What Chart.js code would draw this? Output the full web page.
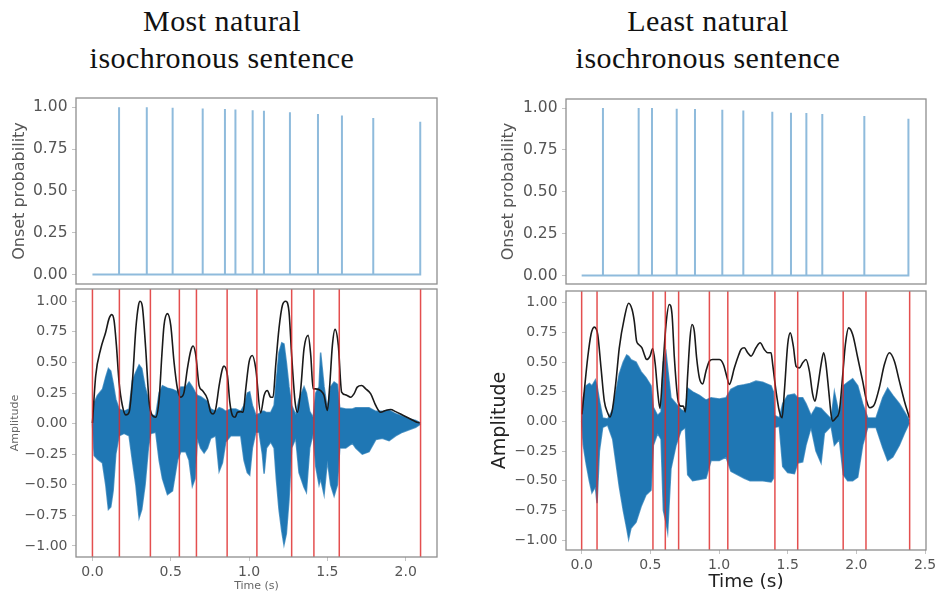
<!DOCTYPE html>
<html><head><meta charset="utf-8">
<script src="https://cdn.jsdelivr.net/npm/chart.js@4.4.1/dist/chart.umd.min.js"></script>
<style>
html,body{margin:0;padding:0;background:#fff;}
body{width:938px;height:596px;position:relative;overflow:hidden;}
canvas{position:absolute;}
.title{position:absolute;font-family:'Liberation Serif','DejaVu Serif',serif;font-size:30px;line-height:30px;letter-spacing:0.45px;color:#111;text-align:center;white-space:nowrap;width:400px;}
</style></head><body>
<div class="title" style="left:22px;top:6px">Most natural</div>
<div class="title" style="left:22px;top:43px">isochronous sentence</div>
<div class="title" style="left:508px;top:6px">Least natural</div>
<div class="title" style="left:508px;top:43px">isochronous sentence</div>
<script>
// ---------- tick labels ----------
const xTicksLeft = [0, 0.5, 1, 1.5, 2];
const xTicksRight = [0, 0.5, 1, 1.5, 2, 2.5];
const yTicksOnset = [0, 0.25, 0.5, 0.75, 1];
const yTicksAmp = [-1, -0.75, -0.5, -0.25, 0, 0.25, 0.5, 0.75, 1];

// ---------- LEFT: most natural ----------
const leftSpikeT = [0.170, 0.347, 0.512, 0.704, 0.846, 0.913, 1.023, 1.095, 1.261, 1.440, 1.593, 1.793, 2.093];
const leftSpikeP = [1.0, 1.0, 0.998, 0.993, 0.99, 0.987, 0.983, 0.98, 0.97, 0.96, 0.952, 0.936, 0.914];
const leftOnsets = [0, 0.172, 0.370, 0.555, 0.664, 0.860, 1.050, 1.272, 1.414, 1.576, 2.095];

const leftEnvT = [0, 0.021, 0.053, 0.085, 0.106, 0.123, 0.138, 0.153, 0.170, 0.191, 0.213, 0.234, 0.255, 0.277, 0.294, 0.304, 0.319, 0.340, 0.362, 0.383, 0.404, 0.426, 0.443, 0.457, 0.479, 0.500, 0.521, 0.543, 0.564, 0.585, 0.606, 0.628, 0.643, 0.660, 0.681, 0.702, 0.734, 0.755, 0.770, 0.787, 0.809, 0.830, 0.840, 0.862, 0.877, 0.894, 0.911, 0.926, 0.947, 0.962, 0.979, 1.000, 1.021, 1.043, 1.074, 1.096, 1.117, 1.138, 1.153, 1.170, 1.191, 1.213, 1.234, 1.255, 1.272, 1.294, 1.309, 1.330, 1.351, 1.377, 1.394, 1.409, 1.426, 1.457, 1.479, 1.500, 1.515, 1.532, 1.549, 1.570, 1.591, 1.617, 1.649, 1.670, 1.691, 1.719, 1.745, 1.777, 1.809, 1.840, 1.872, 1.904, 1.936, 1.979, 2.021, 2.064, 2.089];
const leftEnvA = [0.005, 0.393, 0.612, 0.749, 0.858, 0.891, 0.844, 0.639, 0.339, 0.148, 0.071, 0.093, 0.339, 0.776, 0.967, 1.0, 0.954, 0.612, 0.175, 0.066, 0.052, 0.202, 0.557, 0.803, 0.899, 0.803, 0.503, 0.284, 0.216, 0.257, 0.448, 0.598, 0.634, 0.557, 0.311, 0.270, 0.202, 0.093, 0.079, 0.120, 0.311, 0.448, 0.470, 0.393, 0.175, 0.066, 0.052, 0.093, 0.098, 0.093, 0.284, 0.503, 0.557, 0.448, 0.087, 0.23, 0.27, 0.216, 0.216, 0.475, 0.776, 0.967, 1.0, 0.913, 0.557, 0.175, 0.093, 0.284, 0.612, 0.721, 0.557, 0.284, 0.284, 0.270, 0.230, 0.107, 0.311, 0.639, 0.770, 0.639, 0.257, 0.235, 0.216, 0.243, 0.298, 0.311, 0.284, 0.243, 0.148, 0.093, 0.107, 0.115, 0.098, 0.071, 0.044, 0.016, 0.005];

const leftWaveT = [0, 0.011, 0.032, 0.064, 0.085, 0.102, 0.117, 0.132, 0.149, 0.170, 0.202, 0.234, 0.255, 0.277, 0.298, 0.315, 0.336, 0.357, 0.372, 0.404, 0.426, 0.447, 0.479, 0.511, 0.543, 0.564, 0.596, 0.617, 0.638, 0.655, 0.670, 0.691, 0.713, 0.734, 0.755, 0.787, 0.809, 0.830, 0.851, 0.883, 0.915, 0.947, 0.968, 0.989, 1.004, 1.021, 1.043, 1.064, 1.085, 1.096, 1.111, 1.138, 1.160, 1.174, 1.191, 1.209, 1.223, 1.238, 1.255, 1.272, 1.298, 1.319, 1.351, 1.366, 1.387, 1.409, 1.426, 1.447, 1.457, 1.479, 1.500, 1.521, 1.543, 1.564, 1.579, 1.617, 1.660, 1.681, 1.723, 1.766, 1.809, 1.851, 1.894, 1.936, 1.979, 2.021, 2.064, 2.094];
const leftWaveHi = [0, 0.17, 0.23, 0.28, 0.38, 0.45, 0.43, 0.33, 0.20, 0.12, 0.10, 0.12, 0.35, 0.42, 0.48, 0.45, 0.30, 0.20, 0.07, 0.065, 0.25, 0.31, 0.29, 0.28, 0.26, 0.30, 0.30, 0.34, 0.30, 0.26, 0.23, 0.22, 0.20, 0.18, 0.12, 0.10, 0.13, 0.12, 0.10, 0.12, 0.12, 0.10, 0.15, 0.25, 0.26, 0.15, 0.07, 0.08, 0.10, 0.10, 0.09, 0.09, 0.15, 0.35, 0.58, 0.66, 0.65, 0.50, 0.30, 0.15, 0.07, 0.20, 0.30, 0.25, 0.10, 0.05, 0.25, 0.30, 0.58, 0.30, 0.12, 0.30, 0.34, 0.32, 0.13, 0.12, 0.12, 0.13, 0.13, 0.13, 0.10, 0.10, 0.11, 0.08, 0.06, 0.04, 0.025, 0.005];
const leftWaveLo = [0, -0.26, -0.29, -0.32, -0.50, -0.70, -0.68, -0.55, -0.25, -0.10, -0.08, -0.10, -0.30, -0.50, -0.77, -0.70, -0.50, -0.20, -0.08, -0.07, -0.30, -0.45, -0.58, -0.55, -0.30, -0.23, -0.23, -0.30, -0.51, -0.45, -0.12, -0.20, -0.24, -0.20, -0.12, -0.10, -0.39, -0.32, -0.15, -0.10, -0.10, -0.10, -0.30, -0.40, -0.42, -0.20, -0.07, -0.07, -0.25, -0.41, -0.20, -0.15, -0.20, -0.45, -0.70, -0.88, -0.99, -0.90, -0.62, -0.20, -0.12, -0.40, -0.52, -0.56, -0.20, -0.08, -0.35, -0.50, -0.45, -0.58, -0.30, -0.50, -0.59, -0.50, -0.20, -0.20, -0.16, -0.20, -0.25, -0.23, -0.13, -0.12, -0.14, -0.10, -0.07, -0.05, -0.03, -0.005];

// ---------- RIGHT: least natural ----------
const rightSpikeT = [0.155, 0.415, 0.512, 0.692, 0.825, 1.024, 1.177, 1.388, 1.524, 1.636, 1.752, 2.058, 2.379];
const rightSpikeP = [1.0, 1.0, 1.0, 0.996, 0.994, 0.99, 0.986, 0.978, 0.972, 0.97, 0.964, 0.952, 0.936];
const rightOnsets = [0, 0.112, 0.519, 0.609, 0.706, 0.930, 1.064, 1.407, 1.573, 1.904, 2.070, 2.388];

const rightEnvT = [0.002, 0.019, 0.044, 0.068, 0.092, 0.117, 0.141, 0.165, 0.189, 0.206, 0.226, 0.250, 0.274, 0.311, 0.342, 0.367, 0.383, 0.400, 0.415, 0.439, 0.456, 0.473, 0.498, 0.517, 0.536, 0.553, 0.570, 0.590, 0.614, 0.638, 0.658, 0.675, 0.699, 0.723, 0.740, 0.755, 0.772, 0.789, 0.803, 0.820, 0.837, 0.857, 0.881, 0.905, 0.930, 0.954, 1.002, 1.032, 1.056, 1.075, 1.112, 1.136, 1.160, 1.184, 1.209, 1.233, 1.269, 1.299, 1.330, 1.354, 1.379, 1.391, 1.415, 1.439, 1.459, 1.476, 1.500, 1.519, 1.541, 1.561, 1.585, 1.609, 1.633, 1.658, 1.682, 1.699, 1.718, 1.743, 1.762, 1.779, 1.799, 1.816, 1.828, 1.852, 1.876, 1.901, 1.920, 1.944, 1.973, 2.010, 2.046, 2.075, 2.099, 2.131, 2.167, 2.204, 2.240, 2.277, 2.313, 2.350, 2.386];
const rightEnvA = [0.059, 0.256, 0.537, 0.733, 0.795, 0.733, 0.452, 0.171, 0.073, 0.037, 0.115, 0.340, 0.621, 0.874, 0.997, 0.944, 0.846, 0.677, 0.649, 0.621, 0.565, 0.522, 0.551, 0.615, 0.480, 0.256, 0.110, 0.424, 0.817, 0.986, 0.902, 0.537, 0.199, 0.129, 0.129, 0.081, 0.396, 0.705, 0.817, 0.761, 0.537, 0.368, 0.317, 0.424, 0.508, 0.522, 0.522, 0.480, 0.382, 0.312, 0.452, 0.537, 0.607, 0.621, 0.579, 0.551, 0.621, 0.663, 0.607, 0.579, 0.579, 0.480, 0.256, 0.087, 0.031, 0.256, 0.649, 0.747, 0.635, 0.466, 0.452, 0.494, 0.522, 0.424, 0.228, 0.171, 0.284, 0.480, 0.579, 0.480, 0.256, 0.059, 0.003, 0.031, 0.087, 0.396, 0.649, 0.789, 0.733, 0.537, 0.340, 0.171, 0.115, 0.143, 0.284, 0.480, 0.579, 0.508, 0.340, 0.171, 0.031];

const rightWaveT = [0, 0.012, 0.032, 0.056, 0.075, 0.100, 0.112, 0.129, 0.153, 0.189, 0.226, 0.250, 0.274, 0.303, 0.328, 0.342, 0.359, 0.396, 0.432, 0.468, 0.505, 0.522, 0.553, 0.578, 0.595, 0.614, 0.626, 0.650, 0.687, 0.723, 0.755, 0.772, 0.808, 0.857, 0.905, 0.942, 1.002, 1.051, 1.087, 1.136, 1.184, 1.226, 1.269, 1.318, 1.379, 1.396, 1.405, 1.439, 1.464, 1.500, 1.549, 1.573, 1.609, 1.633, 1.670, 1.706, 1.743, 1.767, 1.816, 1.840, 1.876, 1.905, 1.937, 1.973, 2.010, 2.046, 2.083, 2.143, 2.192, 2.228, 2.265, 2.313, 2.350, 2.386];
const rightWaveHi = [0, 0.20, 0.30, 0.32, 0.30, 0.35, 0.30, 0.18, 0.03, 0.02, 0.10, 0.25, 0.40, 0.50, 0.56, 0.55, 0.52, 0.50, 0.42, 0.37, 0.30, 0.12, 0.05, 0.08, 0.50, 0.58, 0.45, 0.20, 0.15, 0.10, 0.08, 0.28, 0.25, 0.22, 0.18, 0.20, 0.19, 0.20, 0.27, 0.30, 0.31, 0.32, 0.34, 0.33, 0.30, 0.25, 0.05, 0.03, 0.15, 0.22, 0.23, 0.20, 0.20, 0.15, 0.05, 0.12, 0.11, 0.08, 0.02, 0.25, 0.05, 0.30, 0.33, 0.36, 0.30, 0.15, 0.03, 0.03, 0.20, 0.28, 0.22, 0.15, 0.08, 0.01];
const rightWaveLo = [0, -0.20, -0.35, -0.50, -0.60, -0.55, -0.69, -0.25, -0.05, -0.03, -0.15, -0.35, -0.55, -0.75, -0.90, -0.99, -0.90, -0.85, -0.72, -0.62, -0.58, -0.20, -0.10, -0.15, -0.75, -0.85, -0.93, -0.40, -0.20, -0.08, -0.05, -0.45, -0.50, -0.49, -0.48, -0.33, -0.33, -0.30, -0.42, -0.45, -0.48, -0.50, -0.50, -0.50, -0.51, -0.48, -0.05, -0.04, -0.38, -0.43, -0.44, -0.35, -0.34, -0.20, -0.05, -0.25, -0.35, -0.10, -0.04, -0.20, -0.15, -0.45, -0.50, -0.50, -0.47, -0.20, -0.05, -0.05, -0.22, -0.33, -0.30, -0.20, -0.10, -0.01];

// ---------- helpers ----------
Chart.defaults.font.family = "'DejaVu Sans', sans-serif";
function fmt2(v){ const s = Math.abs(v).toFixed(2); return v < -1e-9 ? '\u2212' + s : s; }
function fmt1(v){ const s = Math.abs(v).toFixed(1); return v < -1e-9 ? '\u2212' + s : s; }
const pairs = (xs, ys) => xs.map((x, i) => ({x: x, y: ys[i]}));

function spikePoints(times, probs) {
  const pts = [{x: 0, y: 0}];
  times.forEach((t, i) => {
    pts.push({x: t, y: 0}, {x: t, y: probs[i]});
    if (i < times.length - 1) pts.push({x: t, y: 0});
  });
  return pts;
}

const framePlugin = {
  id: 'frame',
  afterDatasetsDraw(chart) {
    const {ctx, chartArea: a} = chart;
    ctx.save();
    ctx.strokeStyle = '#8e8e8e';
    ctx.lineWidth = 1.3;
    ctx.strokeRect(a.left, a.top, a.right - a.left, a.bottom - a.top);
    ctx.restore();
  }
};

const tickGrid = {display: true, drawOnChartArea: false, drawTicks: true, tickLength: 4, tickColor: '#c4c4c4'};

function makeChart(cfg) {
  const padT = 20, padR = 16, padB = 20;
  const left = cfg.rect.l - cfg.axisW;
  const top = cfg.rect.t - padT;
  const bottomExtra = cfg.xAxis ? cfg.xAxis.h : padB;
  const width = cfg.rect.r - left + padR;
  const height = cfg.rect.b - top + bottomExtra;
  const c = document.createElement('canvas');
  c.width = width; c.height = height;
  c.style.left = left + 'px'; c.style.top = top + 'px';
  c.style.width = width + 'px'; c.style.height = height + 'px';
  document.body.appendChild(c);

  const xScale = {
    type: 'linear', min: cfg.xMin, max: cfg.xMax, display: !!cfg.xAxis
  };
  if (cfg.xAxis) {
    Object.assign(xScale, {
      afterBuildTicks: s => { s.ticks = cfg.xAxis.ticks.map(v => ({value: v})); },
      afterFit: s => { s.height = cfg.xAxis.h; },
      grid: tickGrid,
      border: {display: false},
      ticks: {font: {size: 14}, color: '#555', padding: 3, maxRotation: 0, autoSkip: false, callback: v => fmt1(v)},
      title: {display: true, text: 'Time (s)', font: {size: cfg.xAxis.titleSize}, color: cfg.xAxis.titleColor,
              padding: {top: 0, bottom: cfg.xAxis.titlePad}}
    });
  }

  new Chart(c, {
    type: 'line',
    data: {datasets: cfg.datasets},
    options: {
      responsive: false, animation: false, devicePixelRatio: 1,
      layout: {padding: {left: 0, top: padT, right: padR, bottom: cfg.xAxis ? 0 : padB}},
      plugins: {legend: {display: false}, tooltip: {enabled: false}},
      elements: {point: {radius: 0}},
      scales: {
        x: xScale,
        y: {
          type: 'linear', min: cfg.yMin, max: cfg.yMax,
          afterBuildTicks: s => { s.ticks = cfg.yTicks.map(v => ({value: v})); },
          afterFit: s => { s.width = cfg.axisW; },
          grid: tickGrid,
          border: {display: false},
          ticks: {font: {size: cfg.yTickSize}, color: '#555', padding: 4.5, autoSkip: false, callback: v => fmt2(v)},
          title: {display: true, text: cfg.yTitle, font: {size: cfg.yTitleSize}, color: cfg.yTitleColor,
                  padding: {top: cfg.yTitlePad, bottom: 0}}
        }
      }
    },
    plugins: [framePlugin]
  });
}

function onsetDataset(times, probs) {
  return [{data: spikePoints(times, probs), borderColor: '#8fbbdc', borderWidth: 2, fill: false, tension: 0}];
}
function ampDatasets(onsets, envT, envA, waveT, hi, lo, yMin, yMax) {
  const reds = onsets.map(t => ({data: [{x: t, y: yMin}, {x: t, y: yMax}], borderColor: 'rgba(222,40,40,0.82)', borderWidth: 1.5, fill: false}));
  return reds.concat([
    {data: pairs(envT, envA), borderColor: '#1a1a1a', borderWidth: 1.6, fill: false, cubicInterpolationMode: 'monotone'},
    {data: pairs(waveT, hi), borderColor: 'rgba(31,119,180,0.75)', backgroundColor: '#1f77b4', borderWidth: 1.5, fill: '+1', tension: 0},
    {data: pairs(waveT, lo), borderColor: 'rgba(31,119,180,0.75)', borderWidth: 1.5, fill: false, tension: 0}
  ]);
}

// Top-left
makeChart({
  rect: {l: 76, t: 98, r: 437, b: 284}, axisW: 76,
  xMin: -0.105, xMax: 2.2, yMin: -0.057, yMax: 1.056, yTicks: yTicksOnset,
  yTickSize: 15.5, yTitle: 'Onset probability', yTitleSize: 16, yTitleColor: '#555', yTitlePad: 10.4,
  datasets: onsetDataset(leftSpikeT, leftSpikeP)
});
// Bottom-left
makeChart({
  rect: {l: 76, t: 289, r: 437, b: 557}, axisW: 76,
  xMin: -0.105, xMax: 2.2, yMin: -1.09, yMax: 1.10, yTicks: yTicksAmp,
  yTickSize: 14, yTitle: 'Amplitude', yTitleSize: 11, yTitleColor: '#666', yTitlePad: 8.4,
  xAxis: {h: 39, ticks: xTicksLeft, titleSize: 11, titleColor: '#666', titlePad: 3.4},
  datasets: ampDatasets(leftOnsets, leftEnvT, leftEnvA, leftWaveT, leftWaveHi, leftWaveLo, -1.09, 1.10)
});
// Top-right
makeChart({
  rect: {l: 566, t: 99, r: 926, b: 284}, axisW: 86,
  xMin: -0.114, xMax: 2.507, yMin: -0.05, yMax: 1.054, yTicks: yTicksOnset,
  yTickSize: 15.5, yTitle: 'Onset probability', yTitleSize: 16, yTitleColor: '#555', yTitlePad: 19.4,
  datasets: onsetDataset(rightSpikeT, rightSpikeP)
});
// Bottom-right
makeChart({
  rect: {l: 566, t: 291, r: 926, b: 550}, axisW: 86,
  xMin: -0.114, xMax: 2.507, yMin: -1.084, yMax: 1.10, yTicks: yTicksAmp,
  yTickSize: 14, yTitle: 'Amplitude', yTitleSize: 19, yTitleColor: '#222', yTitlePad: 8.6,
  xAxis: {h: 46, ticks: xTicksRight, titleSize: 18.5, titleColor: '#222', titlePad: 3.2},
  datasets: ampDatasets(rightOnsets, rightEnvT, rightEnvA, rightWaveT, rightWaveHi, rightWaveLo, -1.084, 1.10)
});
</script>
</body></html>
